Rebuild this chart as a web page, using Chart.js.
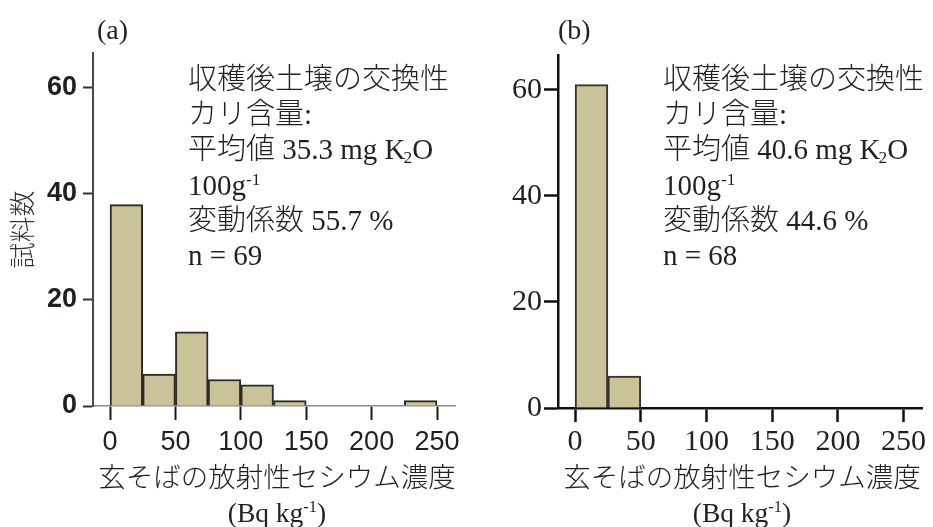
<!DOCTYPE html>
<html lang="ja">
<head>
<meta charset="utf-8">
<script src="https://cdn.jsdelivr.net/npm/chart.js@4.4.1/dist/chart.umd.min.js"></script>
<style>
  html, body { margin: 0; padding: 0; background: #fff; }
  #wrap { position: relative; width: 933px; height: 527px; overflow: hidden; }
  .panel { position: absolute; top: 0; display: block; }
  .txt { position: absolute; font-family: 'Liberation Serif', 'Noto Sans CJK JP', serif; color: #231f20; white-space: nowrap; }
  .note { font-size: 29px; line-height: 35.2px; font-weight: 300; top: 62px; }
  .tag { font-size: 28px; line-height: 30px; top: 15px; }
  .xt { font-size: 27.5px; line-height: 35px; text-align: center; width: 364px; top: 460px; font-weight: 300; }
  sub { font-size: 60%; vertical-align: -0.2em; line-height: 0; margin-left: -2px; }
  sup { font-size: 60%; vertical-align: 0.6em; line-height: 0; }
</style>
</head>
<body>
<div id="wrap">
  <canvas id="histA" class="panel" width="466" height="527" style="left:0"></canvas>
  <canvas id="histB" class="panel" width="467" height="527" style="left:466px"></canvas>

  <div class="txt tag" style="left:97px">(a)</div>
  <div class="txt tag" style="left:558px">(b)</div>

  <div class="txt note" style="left:188px">収穫後土壌の交換性<br>カリ含量:<br>平均値 35.3 mg K<sub>2</sub>O<br>100g<sup>-1</sup><br>変動係数 55.7 %<br>n = 69</div>
  <div class="txt note" style="left:663px">収穫後土壌の交換性<br>カリ含量:<br>平均値 40.6 mg K<sub>2</sub>O<br>100g<sup>-1</sup><br>変動係数 44.6 %<br>n = 68</div>

  <div class="txt xt" style="left:95px">玄そばの放射性セシウム濃度<br>(Bq kg<sup>-1</sup>)</div>
  <div class="txt xt" style="left:560px">玄そばの放射性セシウム濃度<br>(Bq kg<sup>-1</sup>)</div>
</div>
<script>
(function () {
    'use strict';

    // histogram bins (Bq/kg) and sample counts per bin
    var binStarts = [0, 25, 50, 75, 100, 125, 150, 175, 200, 225];
    var binWidth = 25;
    var countsA = [38, 6, 14, 5, 4, 1, 0, 0, 0, 1];
    var countsB = [61, 6, 0, 0, 0, 0, 0, 0, 0, 0];
    var xTicks = [0, 50, 100, 150, 200, 250];
    var yTicks = [0, 20, 40, 60];

    var barFill = '#c9c397';

    function toPoints(counts) {
        return binStarts.map(function (start, i) {
            return { x: start + binWidth / 2, y: counts[i] ? counts[i] : null };
        });
    }

    function makeHist(canvasId, counts, st) {
        var el = document.getElementById(canvasId);
        if (!el) return;
        new Chart(el, {
            type: 'bar',
            data: {
                datasets: [{
                    data: toPoints(counts),
                    backgroundColor: barFill,
                    borderColor: st.barBorder,
                    borderWidth: 2,
                    barPercentage: 1,
                    categoryPercentage: 1
                }]
            },
            options: {
                responsive: false,
                animation: false,
                events: [],
                layout: { padding: { left: 0, top: st.top, right: st.right, bottom: 0 } },
                plugins: { legend: { display: false }, tooltip: { enabled: false } },
                scales: {
                    x: {
                        type: 'linear',
                        min: -13,
                        max: 264,
                        offset: false,
                        afterBuildTicks: function (s) { s.ticks = xTicks.map(function (v) { return { value: v }; }); },
                        afterFit: function (s) { s.height = 527 - st.bottom; },
                        grid: { offset: false, drawOnChartArea: false, drawTicks: true, tickLength: 14, tickWidth: st.tickW, tickColor: st.xTickColor },
                        border: { display: true, color: st.xAxisColor, width: st.xAxisW },
                        ticks: { font: { family: st.fontFamily, size: st.fontSize }, color: '#231f20', padding: st.xPad, maxRotation: 0, autoSkip: false }
                    },
                    y: {
                        min: 0,
                        max: 66.6,
                        afterBuildTicks: function (s) { s.ticks = yTicks.map(function (v) { return { value: v }; }); },
                        afterFit: function (s) { s.width = st.yWidth; },
                        grid: { drawOnChartArea: false, drawTicks: true, tickLength: st.yTickLen, tickWidth: st.tickW, tickColor: st.yTickColor },
                        border: { display: true, color: st.yAxisColor, width: st.yAxisW },
                        ticks: { font: { family: st.fontFamily, size: st.fontSize, weight: st.yWeight }, color: '#231f20', padding: st.yPad },
                        title: {
                            display: !!st.yTitle,
                            text: st.yTitle || '',
                            color: '#333',
                            font: { family: 'Noto Sans CJK JP', size: 26, weight: 300 },
                            padding: { top: 7, bottom: 0 }
                        }
                    }
                }
            }
        });
    }

    makeHist('histA', countsA, {
        top: 53, bottom: 406, right: 9, yWidth: 93,
        barBorder: '#2b2b2b',
        fontFamily: 'Liberation Sans, Arial, sans-serif', fontSize: 27, yWeight: 'bold',
        tickW: 2, xTickColor: '#1a1a1a', yTickColor: '#333',
        xAxisColor: '#8c8c8c', xAxisW: 1.5,
        yAxisColor: '#4a4a4a', yAxisW: 2,
        xPad: 6, yPad: 6, yTickLen: 10,
        yTitle: '試料数'
    });

    makeHist('histB', countsB, {
        top: 55, bottom: 408, right: 11, yWidth: 92,
        barBorder: '#333',
        fontFamily: 'Liberation Serif, Times New Roman, serif', fontSize: 30, yWeight: 'normal',
        tickW: 2.5, xTickColor: '#111', yTickColor: '#111',
        xAxisColor: '#111', xAxisW: 2.5,
        yAxisColor: '#111', yAxisW: 2.5,
        xPad: 2, yPad: 2, yTickLen: 14,
        yTitle: ''
    });
})();
</script>
</body>
</html>
